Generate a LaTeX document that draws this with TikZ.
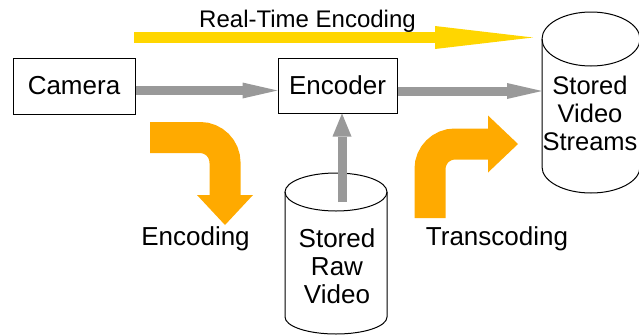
\documentclass[tikz,border=0pt]{standalone}
\usepackage{fontspec}
\setmainfont{Liberation Sans}
\usetikzlibrary{arrows.meta}
\definecolor{arrgray}{RGB}{153,153,153}
\definecolor{rtyellow}{RGB}{255,214,0}
\definecolor{codeorange}{RGB}{255,170,0}
\begin{document}
\begin{tikzpicture}[x=1pt,y=-1pt,
  box/.style={draw, line width=1pt, inner sep=0pt, font=\fontsize{26}{28}\selectfont},
  lbl/.style={inner sep=0pt, font=\fontsize{26}{28}\selectfont, align=center},
  cyl/.style={draw, line width=1pt},
  grayarrow/.style={draw=arrgray, line width=9pt, -{Triangle[length=35pt,width=16pt,line width=0pt]}},
  orangearrow/.style={draw=codeorange, line width=31pt, rounded corners=25pt},
]
\useasboundingbox (0,0) rectangle (639,335);
% boxes
\node[box, minimum width=122pt, minimum height=56pt] (camera) at (74,86) {Camera};
\node[box, minimum width=119pt, minimum height=55pt] (encoder) at (337.5,85.5) {Encoder};
% raw video cylinder
\draw[cyl] (336,192) ellipse [x radius=51pt, y radius=19pt];
\draw[cyl] (285,192) -- (285,317) .. controls (285,326.39) and (307.83,334) .. (336,334)
  .. controls (364.17,334) and (387,326.39) .. (387,317) -- (387,192);
\node[lbl] (rawtext) at (337,266) {Stored\\Raw\\Video};
% streams cylinder
\draw[cyl] (591,39) ellipse [x radius=49pt, y radius=27pt];
\draw[cyl] (542,39) -- (542,167) .. controls (542,181.36) and (563.94,193) .. (591,193)
  .. controls (618.06,193) and (640,181.36) .. (640,167) -- (640,39);
\node[lbl, font=\fontsize{25.5}{28}\selectfont] (streamstext) at (590,113) {Stored\\Video\\Streams};
% labels
\node[inner sep=0pt, anchor=base, font=\fontsize{24}{26}\selectfont] (rtlabel) at (307.5,27) {Real-Time Encoding};
\node[inner sep=0pt, anchor=base, font=\fontsize{26}{28}\selectfont] (enclabel) at (195.5,245) {Encoding};
\node[inner sep=0pt, anchor=base, font=\fontsize{26}{28}\selectfont] (translabel) at (497,245) {Transcoding};
% coordinates
\coordinate (rawtop) at (342,202);
\coordinate (streamsleft) at (542,91);
\coordinate (rtstart) at (134,37.5);
\coordinate (rtend) at (533,37.5);
\coordinate (encA) at (150,137.5);
\coordinate (encB) at (225,137.5);
\coordinate (encC) at (225,225);
\coordinate (trA) at (430,218);
\coordinate (trB) at (430,144);
\coordinate (trC) at (518,144);
% gray arrows
\draw[grayarrow] ([yshift=-4.5pt]camera.east) -- ([yshift=-4.5pt]camera.east -| encoder.west);
\draw[grayarrow] (encoder.east |- streamsleft) -- (streamsleft);
\draw[grayarrow, -{Triangle[length=23pt,width=19pt,line width=0pt]}] (rawtop) -- (rawtop |- encoder.south);
% yellow arrow
\draw[draw=rtyellow, line width=11pt, -{Triangle[length=98pt,width=23pt,line width=0pt]}] (rtstart) -- (rtend);
% orange arrows
\draw[orangearrow, -{Triangle[length=30pt,width=56pt,line width=0pt]}] (encA) -- (encB) -- (encC);
\draw[orangearrow, -{Triangle[length=30pt,width=57pt,line width=0pt]}] (trA) -- (trB) -- (trC);
\end{tikzpicture}
\end{document}
